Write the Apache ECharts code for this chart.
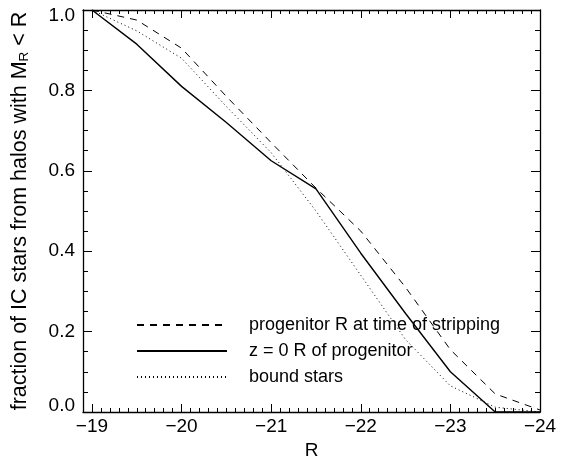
<!DOCTYPE html>
<html>
<head>
<meta charset="utf-8">
<script src="https://cdn.jsdelivr.net/npm/echarts@6/dist/echarts.min.js"></script>
<style>
  html, body { margin: 0; padding: 0; background: #fff; }
  #main { width: 562px; height: 461px; }
</style>
</head>
<body>
<div id="main"></div>
<script>
  // R magnitude grid (x) and fractions
  var magR = [-19, -19.5, -20, -20.5, -21, -21.5, -22, -22.5, -23, -23.5, -24];
  var fracStripping = [1.0, 0.975, 0.905, 0.785, 0.67, 0.557, 0.45, 0.31, 0.155, 0.045, 0.005];
  var fracZ0 = [1.0, 0.915, 0.81, 0.72, 0.625, 0.555, 0.395, 0.245, 0.10, 0.0, 0.0];
  var fracBound = [1.0, 0.948, 0.88, 0.76, 0.645, 0.50, 0.34, 0.18, 0.065, 0.012, 0.0];
  var seriesNames = ['progenitor R at time of stripping', 'z = 0 R of progenitor', 'bound stars'];

  var font = '"Liberation Sans", Arial, Helvetica, sans-serif';

  function pairs(ys) {
    return magR.map(function (x, i) { return [x, ys[i]]; });
  }

  var myChart = echarts.init(document.getElementById('main'));

  // x axes: major ticks (interval 1) and minor ticks (interval 0.1), bottom and top
  function xAx(pos, major) {
    return {
      type: 'value', position: pos, min: -24, max: -18.9, inverse: true,
      interval: major ? 1 : 0.1,
      axisLine: { show: major, onZero: false, lineStyle: { color: '#000', width: 1.3 } },
      axisTick: { show: true, inside: true, length: major ? 8 : 4, lineStyle: { color: '#000', width: 1 } },
      axisLabel: {
        show: major && pos === 'bottom', margin: 5, color: '#000', fontSize: 19, fontFamily: font,
        showMaxLabel: false,
        formatter: function (v) {
          if (Math.abs(v - Math.round(v)) > 1e-6) return '';
          return String(Math.round(v)).replace('-', '\u2212');
        }
      },
      splitLine: { show: false },
      name: major && pos === 'bottom' ? 'R' : '',
      nameLocation: 'middle', nameGap: 22,
      nameTextStyle: { color: '#000', fontSize: 19, fontFamily: font }
    };
  }

  function yAx(pos) {
    var left = pos === 'left';
    return {
      type: 'value', position: pos, min: 0, max: 1, interval: 0.2,
      axisLine: { show: true, onZero: false, lineStyle: { color: '#000', width: 1.3 } },
      axisTick: { show: true, inside: true, length: 9, lineStyle: { color: '#000', width: 1 } },
      minorTick: { show: true, splitNumber: 4, length: 5, lineStyle: { color: '#000', width: 1 } },
      axisLabel: {
        show: left, margin: 8, color: '#000', fontSize: 19, fontFamily: font,
        formatter: function (v) {
          if (v <= 0) return '{lo|0.0}';
          if (v >= 1) return '{hi|1.0}';
          return v.toFixed(1);
        },
        rich: {
          lo: { fontSize: 19, fontFamily: font, color: '#000', padding: [0, 0, 12, 0] },
          hi: { fontSize: 19, fontFamily: font, color: '#000', padding: [12, 0, 0, 0] }
        }
      },
      splitLine: { show: false },
      name: left ? '{a|fraction of IC stars from halos with M}{s|R}{a| < R}' : '',
      nameLocation: 'middle', nameRotate: 90, nameGap: 50,
      nameTextStyle: {
        color: '#000', fontFamily: font,
        rich: {
          a: { fontSize: 21.5, fontFamily: font, color: '#000', lineHeight: 26 },
          s: { fontSize: 13.5, fontFamily: font, color: '#000', lineHeight: 13, verticalAlign: 'bottom', padding: [0, 0, 2, 0] }
        }
      }
    };
  }

  function lineSeries(name, ys, type, width) {
    return {
      name: name, type: 'line', data: pairs(ys),
      xAxisIndex: 0, yAxisIndex: 0,
      symbol: 'none', showSymbol: false, silent: true,
      lineStyle: { color: '#000', width: width, type: type },
      itemStyle: { color: '#000' }
    };
  }

  myChart.setOption({
    animation: false,
    backgroundColor: '#fff',
    grid: { left: 83, right: 22, top: 10, bottom: 49, show: false, outerBoundsMode: 'none' },
    legend: {
      orient: 'vertical', left: 131, top: 310,
      itemWidth: 90, itemHeight: 14, itemGap: 6,
      itemStyle: { opacity: 0 },
      textStyle: { color: '#000', fontSize: 18, fontFamily: font, lineHeight: 20, padding: [0, 0, 0, 17] },
      data: seriesNames
    },
    xAxis: [xAx('bottom', true), xAx('top', true), xAx('bottom', false), xAx('top', false)],
    yAxis: [yAx('left'), yAx('right')],
    series: [
      lineSeries(seriesNames[0], fracStripping, [7, 6], 1),
      lineSeries(seriesNames[1], fracZ0, 'solid', 1.4),
      lineSeries(seriesNames[2], fracBound, [1, 3], 1)
    ]
  });
</script>
</body>
</html>
